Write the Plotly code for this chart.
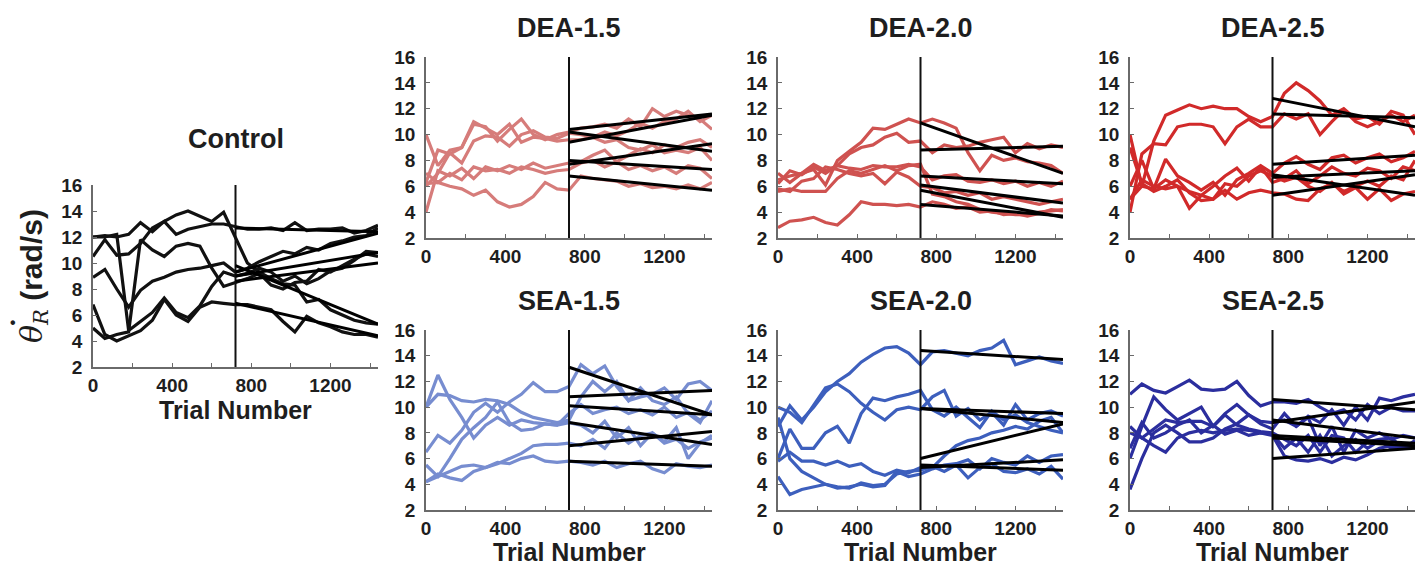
import plotly.graph_objects as go

# ---------------- data ----------------
TRIALS = [0, 60, 120, 180, 240, 300, 360, 420, 480, 540, 600, 660, 720,
          780, 840, 900, 960, 1020, 1080, 1140, 1200, 1260, 1320, 1380, 1440]
SPLIT_TRIAL = 720
LAST_TRIAL = 1440

PANEL_NAMES = ["Control", "DEA-1.5", "DEA-2.0", "DEA-2.5", "SEA-1.5", "SEA-2.0", "SEA-2.5"]
PANEL_COLORS = ["#111111", "#d67c7a", "#cf5250", "#d12a2a", "#778dd0", "#3d5fbd", "#2b2e9e"]

CONTROL = [
    [12.0, 12.1, 12.0, 12.2, 13.1, 12.4, 13.2, 12.2, 12.6, 12.8, 13.0, 13.0, 12.8,
     12.6, 12.6, 12.7, 12.5, 13.1, 12.5, 12.6, 12.6, 12.7, 12.3, 12.5, 12.9],
    [10.5, 11.8, 10.6, 10.7, 11.5, 12.7, 13.2, 13.7, 14.0, 13.6, 13.2, 13.9, 12.0,
     10.0, 9.3, 8.8, 8.4, 8.3, 7.0, 7.2, 6.4, 6.0, 5.6, 5.4, 5.3],
    [8.9, 9.5, 8.0, 6.6, 7.9, 8.6, 8.9, 9.3, 9.5, 9.6, 9.8, 10.0, 9.3,
     9.6, 10.1, 10.5, 10.9, 10.7, 11.2, 11.0, 11.5, 11.7, 12.0, 12.1, 12.7],
    [12.0, 12.0, 12.2, 4.8, 5.5, 6.2, 7.3, 6.2, 5.8, 6.7, 8.2, 9.3, 9.0,
     9.2, 9.6, 9.3, 8.6, 9.0, 8.4, 8.8, 9.4, 9.6, 10.2, 10.9, 10.8],
    [5.0, 4.2, 4.5, 4.7, 11.8, 11.0, 10.5, 11.3, 11.5, 11.3, 9.6, 8.2, 8.5,
     8.8, 9.2, 8.3, 8.0, 8.5, 8.6, 9.5, 9.3, 9.8, 10.3, 10.7, 10.5],
    [6.8, 4.5, 4.0, 4.4, 4.8, 5.6, 7.2, 6.0, 5.5, 6.6, 7.0, 6.9, 6.8,
     6.8, 6.6, 6.4, 5.5, 4.7, 5.9, 5.4, 5.1, 4.7, 4.5, 4.5, 4.3],
]
CONTROL_FIT = [(12.7, 12.4), (9.8, 5.3), (9.3, 12.3), (9.0, 10.8), (8.6, 10.0), (6.9, 4.4)]

DEA_15 = [
    [10.0, 7.6, 8.8, 9.0, 10.8, 10.6, 9.5, 10.4, 11.2, 10.0, 9.6, 10.0, 10.2,
     10.5, 10.6, 10.8, 10.5, 11.2, 10.6, 12.0, 11.4, 11.8, 11.5, 11.2, 10.4],
    [6.3, 8.8, 8.5, 9.0, 11.0, 10.5, 10.0, 10.8, 9.4, 9.8, 9.7, 9.5, 9.6,
     9.6, 9.8, 10.2, 9.9, 10.3, 10.9, 10.5, 11.0, 11.2, 11.8, 11.0, 11.5],
    [6.0, 7.0, 8.6, 7.8, 9.5, 9.9, 9.8, 9.1, 10.0, 10.3, 9.8, 9.7, 10.1,
     10.0, 9.8, 9.4, 9.6, 9.0, 8.8, 9.2, 8.6, 8.8, 8.6, 9.0, 8.0],
    [4.0, 7.2, 6.8, 7.4, 6.6, 7.5, 7.2, 7.6, 7.3, 7.8, 7.4, 7.6, 7.8,
     7.9, 8.4, 8.8, 7.9, 8.4, 8.9, 8.6, 9.2, 9.0, 9.4, 9.6, 9.0],
    [7.0, 6.3, 7.0, 6.5, 7.5, 7.2, 7.3, 7.0, 7.5, 7.3, 7.0, 7.2, 7.3,
     7.8, 8.0, 7.5, 7.9, 7.3, 7.6, 7.2, 7.5, 7.0, 7.6, 7.4, 6.6],
    [6.2, 6.3, 6.0, 5.8, 5.3, 5.7, 4.8, 4.4, 4.6, 5.2, 6.3, 5.8, 5.7,
     6.8, 6.6, 6.5, 6.4, 6.0, 6.2, 5.9, 6.0, 5.8, 6.1, 5.8, 6.3],
]
DEA_15_FIT = [(10.4, 11.6), (9.4, 11.5), (10.2, 8.7), (7.7, 9.3), (8.0, 7.3), (6.8, 5.7)]

DEA_20 = [
    [6.5, 6.8, 7.0, 7.3, 6.1, 8.0, 8.7, 9.4, 10.5, 10.4, 10.8, 11.2, 10.9,
     11.2, 10.9, 10.5, 8.6, 7.2, 8.4, 8.0, 8.2, 7.9, 7.8, 7.6, 7.0],
    [6.2, 7.2, 6.9, 7.5, 7.0, 7.6, 8.5, 9.0, 9.2, 9.8, 10.1, 9.4, 9.5,
     8.6, 9.2, 9.0, 9.1, 9.4, 9.6, 9.8, 8.6, 9.3, 8.9, 9.2, 9.0],
    [7.0, 6.3, 7.0, 7.7, 7.2, 7.6, 7.4, 7.3, 7.6, 7.5, 7.5, 7.7, 7.5,
     6.5, 6.8, 6.9, 6.4, 6.3, 6.5, 6.2, 6.4, 6.0, 6.3, 6.0, 6.4],
    [5.8, 5.6, 6.4, 6.6, 7.5, 7.3, 7.0, 6.8, 7.0, 6.2, 7.1, 6.7, 6.0,
     5.9, 5.5, 5.6, 5.3, 5.5, 5.0, 5.2, 5.0, 4.8, 4.6, 4.8, 5.0],
    [5.6, 5.8, 5.6, 5.6, 5.6, 6.6, 7.2, 7.0, 7.3, 7.6, 7.2, 7.6, 7.7,
     5.4, 5.2, 4.8, 4.6, 4.2, 4.0, 3.9, 3.8, 3.8, 4.0, 4.1, 4.2],
    [2.8, 3.3, 3.4, 3.6, 3.2, 3.0, 3.8, 4.8, 4.6, 4.6, 4.5, 4.6, 4.4,
     4.8, 4.6, 4.3, 4.4, 4.0, 4.1, 3.8, 3.9, 3.7, 3.9, 4.2, 4.1],
]
DEA_20_FIT = [(10.9, 7.0), (8.8, 9.1), (6.8, 6.2), (6.1, 4.7), (5.7, 3.6), (4.6, 3.7)]

DEA_25 = [
    [10.0, 6.0, 9.5, 11.5, 11.9, 12.3, 12.0, 12.2, 12.0, 12.0, 11.4, 11.0, 11.4,
     13.2, 14.0, 13.4, 12.6, 11.5, 12.0, 11.2, 11.4, 10.8, 11.8, 11.5, 10.0],
    [4.0, 8.5, 9.3, 9.2, 10.6, 10.8, 10.8, 10.6, 9.3, 10.6, 11.2, 10.6, 10.6,
     11.6, 11.2, 11.6, 10.0, 11.0, 11.9, 11.0, 10.6, 11.0, 11.5, 11.0, 11.5],
    [5.0, 6.0, 5.8, 8.1, 6.8, 6.3, 5.7, 6.3, 5.3, 6.5, 7.0, 7.6, 7.0,
     7.8, 8.3, 7.7, 7.3, 8.2, 8.4, 7.8, 8.2, 8.5, 7.9, 8.2, 8.7],
    [6.0, 8.0, 5.8, 6.5, 6.0, 4.3, 5.3, 6.0, 6.8, 7.4, 6.4, 7.5, 6.3,
     6.6, 7.2, 6.2, 6.8, 7.5, 7.0, 6.8, 7.4, 7.2, 6.6, 7.5, 7.2],
    [5.0, 6.5, 6.0, 5.8, 6.0, 5.6, 5.3, 5.0, 5.7, 5.0, 5.5, 5.7, 5.5,
     5.4, 5.0, 4.9, 5.8, 6.2, 5.6, 6.0, 6.4, 6.0, 6.8, 6.5, 8.0],
    [9.0, 6.2, 5.6, 6.0, 6.5, 5.5, 4.9, 5.0, 6.2, 6.0, 6.8, 7.2, 6.8,
     6.4, 6.7, 6.0, 5.6, 6.3, 5.4, 5.9, 5.0, 5.8, 4.9, 5.4, 5.6],
]
DEA_25_FIT = [(12.8, 10.6), (11.6, 11.3), (7.7, 8.4), (6.7, 7.2), (5.3, 6.9), (6.9, 5.3)]

SEA_15 = [
    [6.5, 7.8, 7.2, 8.2, 9.6, 10.3, 9.6, 10.4, 11.0, 11.9, 11.2, 11.2, 11.6,
     13.3, 12.6, 13.2, 11.6, 10.5, 11.5, 10.5, 10.2, 10.8, 9.5, 8.8, 10.5],
    [10.0, 11.0, 10.9, 10.5, 10.4, 10.6, 10.5, 10.2, 9.6, 9.2, 9.0, 8.8, 9.0,
     10.8, 12.0, 11.2, 12.0, 10.5, 10.8, 11.0, 11.5, 10.6, 11.8, 12.0, 11.3],
    [10.0, 12.5, 10.6, 9.2, 7.6, 8.6, 9.2, 8.6, 9.0, 8.8, 8.7, 8.6, 9.5,
     10.2, 9.5, 9.8, 10.0, 9.5, 9.8, 9.4, 10.0, 9.2, 9.6, 9.0, 9.7],
    [5.5, 4.6, 6.0, 7.5, 8.4, 9.2, 10.4, 8.8, 8.2, 8.3, 8.7, 8.6, 8.8,
     8.6, 8.0, 8.9, 7.6, 8.4, 7.0, 8.0, 7.2, 7.5, 6.8, 7.3, 7.6],
    [4.2, 4.6, 5.0, 5.4, 5.5, 5.3, 5.6, 6.0, 6.4, 7.0, 7.1, 7.1, 7.2,
     7.0, 7.5, 6.8, 8.0, 7.2, 7.8, 8.0, 7.3, 8.4, 6.0, 7.2, 7.8],
    [4.2, 4.8, 4.5, 4.3, 5.0, 5.3, 5.7, 5.6, 6.0, 6.2, 5.8, 5.7, 5.8,
     5.7, 5.5, 5.8, 5.3, 5.6, 5.8, 5.2, 4.9, 5.6, 5.4, 5.3, 5.5],
]
SEA_15_FIT = [(13.1, 9.4), (10.8, 11.3), (10.1, 9.4), (8.8, 7.1), (7.0, 8.1), (5.8, 5.4)]

SEA_20 = [
    [8.5, 10.1, 9.0, 10.0, 11.2, 12.0, 12.6, 13.5, 14.1, 14.6, 14.7, 14.2, 13.3,
     14.3, 14.4, 14.2, 14.0, 14.4, 14.6, 15.2, 13.3, 13.6, 13.9, 13.6, 13.4],
    [10.0, 9.6, 8.8, 10.2, 11.5, 11.8, 11.2, 10.3, 9.6, 9.0, 9.8, 10.0, 9.8,
     10.8, 11.3, 9.3, 9.9, 9.0, 9.6, 8.6, 10.2, 9.0, 9.5, 9.7, 9.3],
    [6.0, 8.3, 6.8, 6.8, 8.0, 8.5, 7.2, 9.5, 10.7, 10.5, 10.8, 11.0, 11.3,
     9.8, 9.3, 10.0, 9.2, 8.4, 9.7, 9.0, 9.4, 8.8, 8.5, 8.2, 8.0],
    [5.8, 6.5, 5.8, 5.8, 5.5, 5.8, 5.4, 5.6, 5.0, 4.7, 5.1, 4.9, 5.3,
     5.3, 6.2, 7.0, 7.4, 7.6, 8.0, 8.2, 8.5, 8.3, 8.9, 9.2, 8.0],
    [4.6, 3.2, 3.6, 3.8, 4.0, 3.7, 3.8, 4.0, 3.8, 3.9, 5.0, 4.6, 4.8,
     5.2, 5.5, 5.6, 5.9, 5.2, 6.0, 5.7, 5.5, 6.2, 5.7, 6.2, 6.3],
    [9.2, 6.0, 5.0, 4.5, 4.0, 3.8, 3.7, 4.1, 3.9, 4.0, 4.8, 5.0, 5.1,
     5.4, 5.0, 5.5, 4.5, 5.3, 5.6, 5.0, 4.9, 5.2, 4.8, 5.4, 4.4],
]
SEA_20_FIT = [(14.4, 13.7), (9.9, 9.5), (9.9, 8.8), (6.0, 8.7), (5.3, 5.9), (5.5, 5.1)]

SEA_25 = [
    [11.0, 11.8, 11.3, 11.1, 11.6, 12.1, 11.4, 11.3, 11.4, 12.0, 10.9, 10.1, 10.4,
     10.4, 10.3, 10.6, 10.0, 9.5, 9.8, 9.0, 10.2, 9.5, 10.0, 9.7, 9.7],
    [8.5, 7.6, 8.3, 9.0, 8.8, 8.9, 8.9, 8.5, 9.5, 10.2, 9.4, 8.9, 8.8,
     9.0, 8.5, 9.3, 8.8, 9.8, 8.6, 10.0, 9.0, 10.7, 10.5, 10.8, 11.0],
    [3.6, 6.0, 8.0, 8.6, 8.0, 7.3, 7.3, 7.6, 8.3, 8.7, 9.4, 8.7, 8.3,
     9.5, 8.5, 9.2, 7.0, 8.5, 6.5, 8.2, 7.6, 8.0, 7.5, 7.8, 7.6],
    [6.0, 8.5, 10.8, 9.8, 9.0, 9.5, 10.0, 8.5, 9.4, 8.6, 8.3, 8.1, 8.0,
     7.5, 7.0, 7.8, 6.5, 7.8, 7.6, 6.5, 7.3, 7.5, 7.6, 6.8, 7.4],
    [8.0, 7.6, 7.0, 6.5, 7.6, 8.0, 8.2, 8.0, 8.2, 8.3, 8.2, 8.0, 7.9,
     6.8, 7.6, 6.5, 7.8, 6.2, 7.0, 7.5, 6.8, 7.4, 6.8, 7.0, 6.8],
    [6.8, 8.8, 7.6, 8.0, 8.6, 9.0, 8.0, 8.6, 7.9, 8.2, 7.8, 8.0, 7.8,
     6.2, 5.9, 5.8, 6.0, 5.7, 6.1, 5.9, 6.3, 6.8, 7.0, 6.8, 7.0],
]
SEA_25_FIT = [(10.6, 9.8), (8.8, 10.4), (9.0, 7.6), (7.8, 7.2), (7.6, 7.0), (6.0, 6.8)]

X_TICKS = [0, 400, 800, 1200]
X_MINOR_TICKS = [200, 600, 1000, 1400]
Y_TICKS = [2, 4, 6, 8, 10, 12, 14, 16]
Y_RANGE = [2, 16]
X_LABEL = "Trial Number"
Y_SYMBOL = "θ"
Y_SUBSCRIPT = "R"
Y_UNIT = "(rad/s)"

PANELS = [(CONTROL, CONTROL_FIT), (DEA_15, DEA_15_FIT), (DEA_20, DEA_20_FIT),
          (DEA_25, DEA_25_FIT), (SEA_15, SEA_15_FIT), (SEA_20, SEA_20_FIT),
          (SEA_25, SEA_25_FIT)]

# ---------------- layout geometry (pixels) ----------------
W, H = 1421, 567
BOXES = [  # left, right, top, bottom
    (93, 378, 185, 367),
    (426, 712, 57, 238), (778, 1063, 57, 238), (1130, 1415, 57, 238),
    (426, 712, 330, 510), (778, 1063, 330, 510), (1130, 1415, 330, 510),
]
FONT = "Liberation Sans, Arial, sans-serif"
SERIF = "DejaVu Serif, Liberation Serif, serif"
AXIS_COLOR = "#6a6a6a"
TEXT_COLOR = "#1e1e1e"


def px_x(v):
    return v / W


def px_y(v):
    return 1 - v / H


fig = go.Figure()
layout = dict(
    width=W, height=H, autosize=False,
    margin=dict(l=0, r=0, t=0, b=0, pad=0, autoexpand=False),
    paper_bgcolor="white", plot_bgcolor="white",
    showlegend=False,
    font=dict(family=FONT, color=TEXT_COLOR),
)
annotations = []

for k, ((trajs, fits), name, color, box) in enumerate(zip(PANELS, PANEL_NAMES, PANEL_COLORS, BOXES), start=1):
    xa = "x" if k == 1 else f"x{k}"
    ya = "y" if k == 1 else f"y{k}"
    for t in trajs:
        fig.add_trace(go.Scatter(x=TRIALS, y=t, mode="lines", xaxis=xa, yaxis=ya,
                                 line=dict(color=color, width=3.2), hoverinfo="skip"))
    fig.add_trace(go.Scatter(x=[SPLIT_TRIAL, SPLIT_TRIAL], y=Y_RANGE, mode="lines",
                             xaxis=xa, yaxis=ya, line=dict(color="#111111", width=2),
                             hoverinfo="skip"))
    for a, b in fits:
        fig.add_trace(go.Scatter(x=[SPLIT_TRIAL, LAST_TRIAL], y=[a, b], mode="lines",
                                 xaxis=xa, yaxis=ya, line=dict(color="black", width=3),
                                 hoverinfo="skip"))
    l, r, t, b = box
    axis_common = dict(showline=True, linecolor=AXIS_COLOR, linewidth=1.5,
                       showgrid=False, zeroline=False, ticks="inside", ticklen=4,
                       tickwidth=1.2, tickcolor=AXIS_COLOR, automargin=False,
                       tickfont=dict(family=FONT, size=19, color=TEXT_COLOR, weight="bold"))
    layout["xaxis" if k == 1 else f"xaxis{k}"] = dict(
        domain=[px_x(l), px_x(r)], anchor=ya, range=[0, LAST_TRIAL],
        tickmode="array", tickvals=X_TICKS,
        minor=dict(tickvals=X_MINOR_TICKS, ticks="inside", ticklen=4,
                   tickcolor=AXIS_COLOR, tickwidth=1.2),
        ticklabelstandoff=0, **axis_common)
    layout["yaxis" if k == 1 else f"yaxis{k}"] = dict(
        domain=[px_y(b), px_y(t)], anchor=xa, range=Y_RANGE,
        tickmode="array", tickvals=Y_TICKS,
        ticklabelstandoff=5, **axis_common)
    # panel title
    title_y = t - 46 if k == 1 else t - 29
    annotations.append(dict(text=f"<b>{name}</b>", x=px_x((l + r) / 2), y=px_y(title_y),
                            xref="paper", yref="paper", showarrow=False,
                            xanchor="center", yanchor="middle",
                            font=dict(family=FONT, size=27, color=TEXT_COLOR)))
    if k == 1 or k >= 5:
        label_y = b + 43 if k == 1 else b + 42
        annotations.append(dict(text=f"<b>{X_LABEL}</b>", x=px_x((l + r) / 2),
                                y=px_y(label_y), xref="paper", yref="paper",
                                showarrow=False, xanchor="center", yanchor="middle",
                                font=dict(family=FONT, size=25, color=TEXT_COLOR)))

# y-axis label of the control panel: theta-dot subscript R (rad/s)
ylabel = (f'<i>{Y_SYMBOL}</i><sub><i>{Y_SUBSCRIPT}</i></sub>'
          f'<span style="font-family:{FONT}"><b> {Y_UNIT}</b></span>')
annotations.append(dict(text=ylabel, x=px_x(33), y=px_y(276), xref="paper", yref="paper",
                        showarrow=False, textangle=-90, xanchor="center", yanchor="middle",
                        font=dict(family=SERIF, size=30, color=TEXT_COLOR)))
# the time-derivative dot above theta
annotations.append(dict(text="<b>•</b>", x=px_x(13), y=px_y(322), xref="paper", yref="paper",
                        showarrow=False, xanchor="center", yanchor="middle",
                        font=dict(family=FONT, size=16, color=TEXT_COLOR)))

layout["annotations"] = annotations
fig.update_layout(**layout)
fig.write_html("out.html")
